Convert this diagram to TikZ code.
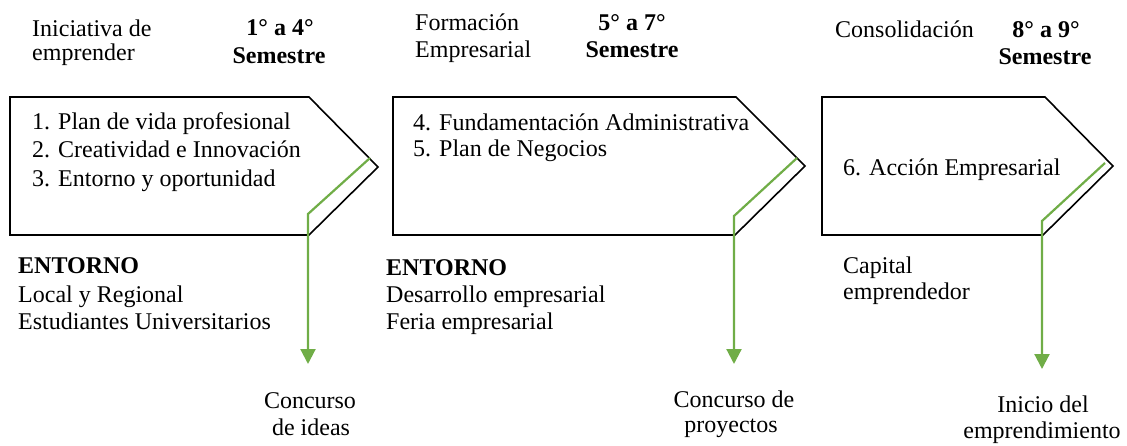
\documentclass[tikz,border=0pt]{standalone}
\usepackage{fontspec}
\setmainfont{Liberation Serif}
\usetikzlibrary{arrows.meta}
\definecolor{grn}{HTML}{70AD47}
\tikzset{
  box/.style={draw=black,line width=1.6pt,line join=miter},
  garrow/.style={draw=grn,line width=2.2pt,-{Triangle[width=15pt,length=15pt]}},
  txt/.style={anchor=base west,inner sep=0pt,font=\fontsize{24}{27}\selectfont},
  bltxt/.style={anchor=base west,inner sep=0pt,font=\fontsize{24}{27}\selectfont\bfseries},
  btxt/.style={anchor=base,inner sep=0pt,font=\fontsize{24}{27}\selectfont\bfseries},
  ctxt/.style={anchor=base,inner sep=0pt,font=\fontsize{24}{27}\selectfont},
}
\begin{document}
\begin{tikzpicture}[x=1pt,y=-1pt]
\useasboundingbox (0,0) rectangle (1127,446);
% boxes
\coordinate (b1tl) at (10,97); \coordinate (b1tr) at (309,97); \coordinate (b1tip) at (378,167);
\coordinate (b1br) at (309,235); \coordinate (b1bl) at (10,235);
\draw[box] (b1tl) -- (b1tr) -- (b1tip) -- (b1br) -- (b1bl) -- cycle;
\coordinate (b2tl) at (393,97); \coordinate (b2tr) at (736,97); \coordinate (b2tip) at (805,166);
\coordinate (b2br) at (735,235); \coordinate (b2bl) at (393,235);
\draw[box] (b2tl) -- (b2tr) -- (b2tip) -- (b2br) -- (b2bl) -- cycle;
\coordinate (b3tl) at (822,97); \coordinate (b3tr) at (1045,97); \coordinate (b3tip) at (1113,166);
\coordinate (b3br) at (1043,235); \coordinate (b3bl) at (822,235);
\draw[box] (b3tl) -- (b3tr) -- (b3tip) -- (b3br) -- (b3bl) -- cycle;
% green connectors
\coordinate (g1a) at (370,158); \coordinate (g1b) at (308,214); \coordinate (g1c) at (308,364);
\draw[garrow] (g1a) -- (g1b) -- (g1c);
\coordinate (g2a) at (797,158); \coordinate (g2b) at (734,216); \coordinate (g2c) at (734,364);
\draw[garrow] (g2a) -- (g2b) -- (g2c);
\coordinate (g3a) at (1105,163); \coordinate (g3b) at (1042,221); \coordinate (g3c) at (1042,369);
\draw[garrow] (g3a) -- (g3b) -- (g3c);
% header texts
\node[txt] (h1a) at (32,37) {Iniciativa de};
\node[txt] (h1b) at (32,61) {emprender};
\node[btxt] (s1a) at (280,36) {1° a 4°};
\node[btxt] (s1b) at (279,64) {Semestre};
\node[txt] (h2a) at (415,31) {Formación};
\node[txt] (h2b) at (415,58) {Empresarial};
\node[btxt] (s2a) at (632,31) {5° a 7°};
\node[btxt] (s2b) at (632,58) {Semestre};
\node[txt] (h3a) at (835,38) {Consolidación};
\node[btxt] (s3a) at (1046,38) {8° a 9°};
\node[btxt] (s3b) at (1045,65) {Semestre};
% box texts
\node[txt] (t11) at (32,130) {1. Plan de vida profesional};
\node[txt] (t12) at (32,158) {2. Creatividad e Innovación};
\node[txt] (t13) at (32,187) {3. Entorno y oportunidad};
\node[txt] (t21) at (413,131) {4. Fundamentación Administrativa};
\node[txt] (t22) at (413,157) {5. Plan de Negocios};
\node[txt] (t31) at (843,176) {6. Acción Empresarial};
% entorno
\node[bltxt] (e1) at (18,274) {ENTORNO};
\node[txt] (e1a) at (18,302) {Local y Regional};
\node[txt] (e1b) at (18,329) {Estudiantes Universitarios};
\node[bltxt] (e2) at (386,276) {ENTORNO};
\node[txt] (e2a) at (386,303) {Desarrollo empresarial};
\node[txt] (e2b) at (386,329) {Feria empresarial};
\node[txt] (e3a) at (843,274) {Capital};
\node[txt] (e3b) at (843,300) {emprendedor};
% outcomes
\node[ctxt] (o1a) at (310,408) {Concurso};
\node[ctxt] (o1b) at (311,435) {de ideas};
\node[ctxt] (o2a) at (734,407) {Concurso de};
\node[ctxt] (o2b) at (731,432) {proyectos};
\node[ctxt] (o3a) at (1043,412) {Inicio del};
\node[ctxt] (o3b) at (1042,438) {emprendimiento};
\end{tikzpicture}
\end{document}
